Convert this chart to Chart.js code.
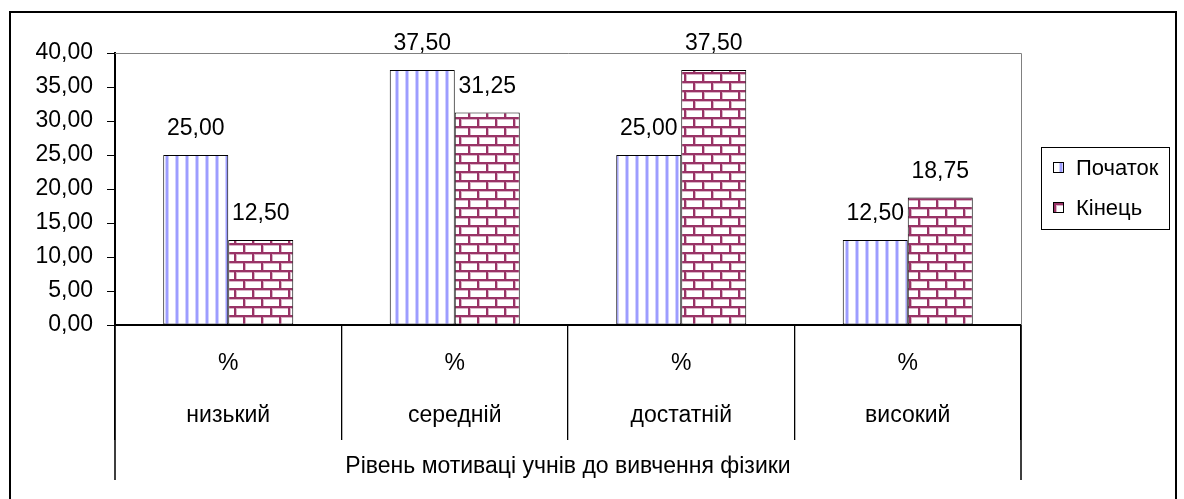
<!DOCTYPE html>
<html>
<head>
<meta charset="utf-8">
<script src="https://cdn.jsdelivr.net/npm/chart.js@4"></script>
<style>
html,body{margin:0;padding:0;background:#fff;}
#wrap{position:relative;width:1184px;height:499px;overflow:hidden;background:#fff;}
#frame{position:absolute;left:9px;top:11px;width:1168px;height:600px;border:2px solid #000;border-bottom:none;box-sizing:border-box;pointer-events:none;}
#legend{position:absolute;left:1041px;top:147px;width:129px;height:83px;border:1px solid #000;box-sizing:border-box;background:#fff;font-family:'Liberation Sans',Arial,sans-serif;font-size:22px;color:#000;}
.item{position:absolute;left:11px;height:24px;line-height:24px;white-space:nowrap;}
.item canvas{display:inline-block;vertical-align:middle;margin-right:12px;margin-top:-3px;border:1px solid #000;}
</style>
</head>
<body>
<div id="wrap">
  <canvas id="c" width="1184" height="499"></canvas>
  <div id="frame"></div>
  <div id="legend"></div>
</div>
<script>
// ---- data ----
const categories = ['низький', 'середній', 'достатній', 'високий'];
const unitLabel = '%';
const seriesNames = ['Початок', 'Кінець'];
const startValues = [25.00, 37.50, 25.00, 12.50];
const endValues = [12.50, 31.25, 37.50, 18.75];
const yMin = 0, yMax = 40, yStep = 5;
const axisTitle = 'Рівень мотиваці учнів до вивчення фізики';

const FONT = "'Liberation Sans', Arial, sans-serif";
const FS = 23;
const fmt = v => Number(v).toFixed(2).replace('.', ',');

// ---- patterns ----
function stripePattern() {
  const c = document.createElement('canvas'); c.width = 10; c.height = 4;
  const g = c.getContext('2d');
  g.fillStyle = '#fff'; g.fillRect(0, 0, 10, 4);
  g.fillStyle = '#d0d0ff'; g.fillRect(5, 0, 1, 4); g.fillRect(8, 0, 1, 4);
  g.fillStyle = '#9d9dff'; g.fillRect(6, 0, 2, 4);
  return g.createPattern(c, 'repeat');
}
function brickPattern() {
  const c = document.createElement('canvas'); c.width = 18; c.height = 18;
  const g = c.getContext('2d');
  g.fillStyle = '#fff'; g.fillRect(0, 0, 18, 18);
  g.fillStyle = '#dbb3c7';
  g.fillRect(0, 2, 18, 1); g.fillRect(0, 11, 18, 1);
  g.fillRect(2, 2, 1, 7); g.fillRect(11, 11, 1, 7);
  g.fillStyle = '#993366';
  g.fillRect(0, 0, 18, 2);
  g.fillRect(0, 2, 2, 7);
  g.fillRect(0, 9, 18, 2);
  g.fillRect(9, 11, 2, 7);
  return g.createPattern(c, 'repeat');
}
const fills = [stripePattern(), brickPattern()];

// ---- plugins ----
const framePlugin = {
  id: 'frameLines',
  beforeDatasetsDraw(chart) {
    const {ctx, chartArea: a} = chart;
    ctx.save();
    ctx.strokeStyle = '#808080';
    ctx.lineWidth = 1;
    ctx.beginPath();
    ctx.moveTo(a.left, Math.round(a.top) + 0.5);
    ctx.lineTo(Math.round(a.right) + 0.5, Math.round(a.top) + 0.5);
    ctx.lineTo(Math.round(a.right) + 0.5, a.bottom);
    ctx.stroke();
    ctx.restore();
  },
  afterDraw(chart) {
    const {ctx, chartArea: a} = chart;
    const xs = chart.scales.x;
    ctx.save();
    ctx.strokeStyle = '#000';
    ctx.lineWidth = 1.5;
    ctx.beginPath();
    [a.left, a.right].forEach(x => {
      ctx.moveTo(Math.round(x), a.bottom);
      ctx.lineTo(Math.round(x), xs.bottom);
    });
    ctx.stroke();
    ctx.restore();
  }
};
const valueLabels = {
  id: 'valueLabels',
  afterDatasetsDraw(chart) {
    const {ctx} = chart;
    ctx.save();
    ctx.font = FS + 'px ' + FONT;
    ctx.fillStyle = '#000';
    ctx.textAlign = 'center';
    ctx.textBaseline = 'middle';
    chart.data.datasets.forEach((ds, i) => {
      chart.getDatasetMeta(i).data.forEach((bar, j) => {
        ctx.fillText(fmt(ds.data[j]), bar.x, bar.y - 26);
      });
    });
    ctx.restore();
  }
};

// ---- chart ----
const chart = new Chart(document.getElementById('c'), {
  type: 'bar',
  data: {
    labels: categories.map(c => [unitLabel, c]),
    datasets: [
      {label: seriesNames[0], data: startValues, backgroundColor: fills[0], borderColor: '#000', borderWidth: 1, borderSkipped: false},
      {label: seriesNames[1], data: endValues, backgroundColor: fills[1], borderColor: '#000', borderWidth: 1, borderSkipped: false}
    ]
  },
  options: {
    responsive: false,
    animation: false,
    events: [],
    layout: {padding: {top: 53, bottom: 19, left: 0, right: 163}},
    datasets: {bar: {categoryPercentage: 0.574, barPercentage: 1}},
    plugins: {legend: {display: false}, tooltip: {enabled: false}},
    scales: {
      x: {
        offset: true,
        grid: {display: true, offset: true, drawOnChartArea: false, drawTicks: true, tickLength: 115, color: '#000', lineWidth: 1.3},
        border: {display: true, color: '#000', width: 2},
        ticks: {autoSkip: false, maxRotation: 0, minRotation: 0, padding: -102, color: '#000',
                font: {family: FONT, size: FS, lineHeight: 52 / FS}},
        title: {display: true, text: axisTitle, color: '#000', padding: {top: 0, bottom: 0},
                font: {family: FONT, size: FS, lineHeight: 1.2}},
        afterFit(s) { s.height = 155; }
      },
      y: {
        min: yMin, max: yMax,
        grid: {drawOnChartArea: false, drawTicks: true, tickLength: 8, color: '#000', lineWidth: 1},
        border: {display: true, color: '#000', width: 2},
        ticks: {stepSize: yStep, padding: 14, color: '#000', font: {family: FONT, size: FS},
                callback: v => fmt(v)},
        afterFit(s) { s.width = 115; }
      }
    }
  },
  plugins: [framePlugin, valueLabels]
});

// ---- legend (HTML, built from dataset names) ----
const legend = document.getElementById('legend');
const tops = [8, 48];
chart.data.datasets.forEach((ds, i) => {
  const item = document.createElement('div');
  item.className = 'item';
  item.style.top = tops[i] + 'px';
  const sw = document.createElement('canvas');
  sw.width = 9; sw.height = 9;
  const g = sw.getContext('2d');
  g.fillStyle = ds.backgroundColor; g.fillRect(0, 0, 9, 9);
  item.appendChild(sw);
  item.appendChild(document.createTextNode(ds.label));
  legend.appendChild(item);
});
</script>
</body>
</html>
